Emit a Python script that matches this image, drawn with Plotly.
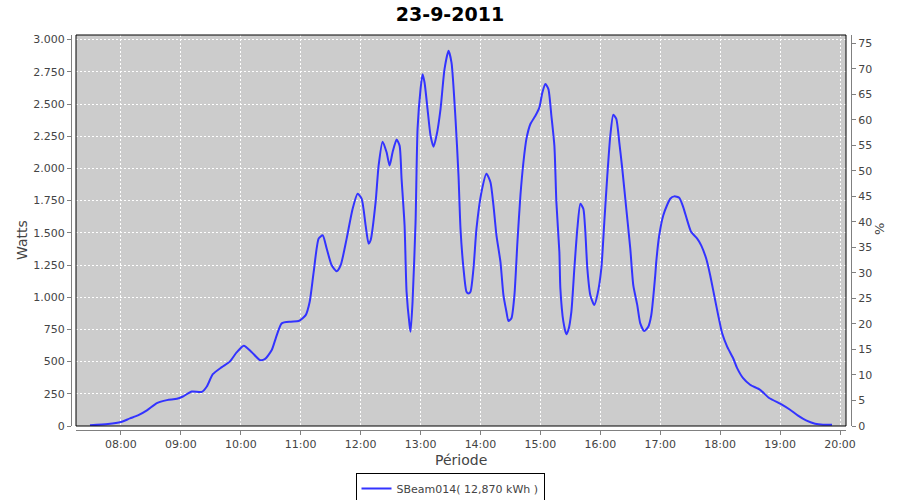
import plotly.graph_objects as go

DATE = "2011-09-23"
times = ["07:29","07:47","08:00","08:09","08:17","08:26","08:36","08:46","08:56","09:02",
         "09:11","09:21","09:26","09:32","09:41","09:49","09:56","10:03","10:11","10:19",
         "10:24","10:31","10:35","10:41","10:50","10:58","11:05","11:09","11:13","11:18",
         "11:22","11:26","11:31","11:36","11:40","11:46","11:52","11:57","12:01","12:05",
         "12:08","12:10","12:15","12:18","12:22","12:26","12:29","12:32","12:36","12:39",
         "12:41","12:44","12:46","12:49","12:50","12:52","12:55","12:57","13:00","13:02",
         "13:04","13:07","13:10","13:13","13:16","13:20","13:24","13:28","13:31","13:35",
         "13:38","13:40","13:43","13:46","13:48","13:50","13:53","13:56","14:01","14:06",
         "14:10","14:13","14:16","14:20","14:23","14:26","14:28","14:31","14:34","14:37",
         "14:40","14:43","14:46","14:50","14:55","14:59","15:02","15:05","15:08","15:11",
         "15:14","15:16","15:19","15:20","15:23","15:26","15:28","15:31","15:34","15:37",
         "15:40","15:43","15:45","15:47","15:50","15:54","15:57","16:01","16:04","16:07",
         "16:10","16:13","16:16","16:19","16:22","16:26","16:30","16:33","16:37","16:40",
         "16:44","16:48","16:51","16:55","16:56","16:59","17:03","17:07","17:10","17:14",
         "17:19","17:23","17:27","17:31","17:37","17:41","17:46","17:50","17:54","17:58",
         "18:02","18:07","18:13","18:17","18:23","18:30","18:40","18:49","19:01","19:10",
         "19:18","19:26","19:35","19:43","19:52"]
watts = [5,15,31,59,82,121,178,201,211,229,
         268,265,307,402,457,500,573,624,573,513,
         519,590,681,797,810,815,861,965,1197,1455,
         1481,1378,1248,1202,1248,1455,1687,1803,1765,1558,
         1416,1442,1738,2022,2208,2125,2022,2125,2224,2177,
         1919,1558,1042,784,732,965,1584,2307,2616,2732,
         2667,2461,2255,2169,2255,2461,2771,2913,2822,2384,
         1945,1532,1223,1042,1029,1042,1223,1532,1816,1958,
         1893,1713,1481,1274,1016,887,815,836,1016,1429,
         1790,2048,2229,2345,2409,2474,2590,2655,2616,2409,
         2177,1738,1351,1068,810,712,745,887,1223,1532,
         1726,1687,1506,1223,1016,939,1016,1223,1584,1945,
         2255,2417,2384,2203,1997,1687,1378,1094,939,797,
         738,771,860,1171,1274,1481,1635,1718,1765,1783,
         1772,1700,1597,1506,1455,1403,1300,1171,1016,861,
         720,616,526,449,371,320,281,217,170,126,
         80,43,18,10,10]

title = "23-9-2011"
series_name = "SBeam014( 12,870 kWh )"
x_ticks = ["08:00","09:00","10:00","11:00","12:00","13:00","14:00","15:00",
           "16:00","17:00","18:00","19:00","20:00"]
left_ticks = [0,250,500,750,1000,1250,1500,1750,2000,2250,2500,2750,3000]
right_ticks = [0,5,10,15,20,25,30,35,40,45,50,55,60,65,70,75]

xs = [f"{DATE} {t}" for t in times]
xtickvals = [f"{DATE} {t}" for t in x_ticks]

FONT = "DejaVu Sans"
TXT = "#444444"
AX = "#808080"

fig = go.Figure()
fig.add_trace(go.Scatter(x=xs, y=watts, mode="lines", name=series_name,
                         line=dict(color="#3333ff", width=2, shape="spline", smoothing=0.6),
                         yaxis="y"))
fig.add_trace(go.Scatter(x=[xs[0]], y=[None], mode="lines", showlegend=False,
                         hoverinfo="skip", yaxis="y2"))

W, H = 900, 500
L, R, T, B = 71, 49, 35, 70
pw = W - L - R   # 780
ph = H - T - B   # 395

fig.update_layout(
    width=W, height=H,
    margin=dict(l=L, r=R, t=T, b=B, autoexpand=False),
    paper_bgcolor="white",
    plot_bgcolor="#cccccc",
    separators=",.",
    font=dict(family=FONT, size=11, color=TXT),
    title=dict(text=f"<b>{title}</b>", x=0.5, xref="container", xanchor="center",
               y=1 - 14 / H, yref="container", yanchor="middle",
               font=dict(family=FONT, size=19, color="black")),
    xaxis=dict(type="date", domain=[5 / pw, 775 / pw],
               range=[f"{DATE} 07:15", f"{DATE} 20:06"],
               tickvals=xtickvals, tickformat="%H:%M",
               showgrid=True, gridcolor="white", griddash="2px,2px", gridwidth=1,
               showline=True, linecolor=AX, linewidth=1,
               ticks="outside", ticklen=4, tickcolor=AX,
               anchor="free", position=0, zeroline=False, automargin=False,
               tickfont=dict(family=FONT, size=11, color=TXT)),
    yaxis=dict(domain=[4 / ph, 1], range=[0, 3036],
               tickvals=left_ticks, tickformat=",d",
               showgrid=True, gridcolor="white", griddash="2px,2px", gridwidth=1,
               showline=True, linecolor=AX, linewidth=1,
               ticks="outside", ticklen=4, tickcolor=AX,
               anchor="free", position=0, zeroline=False, automargin=False,
               tickfont=dict(family=FONT, size=11, color=TXT)),
    yaxis2=dict(overlaying="y", side="right", range=[0, 76.6],
                tickvals=right_ticks, showgrid=False,
                showline=True, linecolor=AX, linewidth=1,
                ticks="outside", ticklen=4, tickcolor=AX,
                anchor="free", position=1, zeroline=False, automargin=False,
                tickfont=dict(family=FONT, size=11, color=TXT)),
    showlegend=True,
    legend=dict(orientation="h", x=0.5, xref="container", xanchor="center",
                y=(H - 473) / H, yref="container", yanchor="top",
                bordercolor="black", borderwidth=1, bgcolor="white",
                font=dict(family=FONT, size=11, color=TXT),
                itemwidth=30, tracegroupgap=0),
)

# plot area border
fig.add_shape(type="rect", xref="x domain", yref="y domain", x0=0, x1=1, y0=0, y1=1,
              line=dict(color="black", width=1), fillcolor="rgba(0,0,0,0)", layer="above")

# axis titles
fig.add_annotation(text="Watts", xref="paper", yref="paper",
                   x=(22 - L) / pw, y=(H - B - 240) / ph, textangle=-90, showarrow=False,
                   xanchor="center", yanchor="middle",
                   font=dict(family=FONT, size=14, color=TXT))
fig.add_annotation(text="Période", xref="paper", yref="paper",
                   x=(461 - L) / pw, y=(H - B - 460) / ph, showarrow=False,
                   xanchor="center", yanchor="middle",
                   font=dict(family=FONT, size=14, color=TXT))
fig.add_annotation(text="%", xref="paper", yref="paper",
                   x=(880 - L) / pw, y=(H - B - 229) / ph, textangle=-90, showarrow=False,
                   xanchor="center", yanchor="middle",
                   font=dict(family=FONT, size=13, color=TXT))

fig.write_html("out.html", config={"displayModeBar": False},
               post_script="document.body.style.margin='0';document.body.style.padding='0';")
